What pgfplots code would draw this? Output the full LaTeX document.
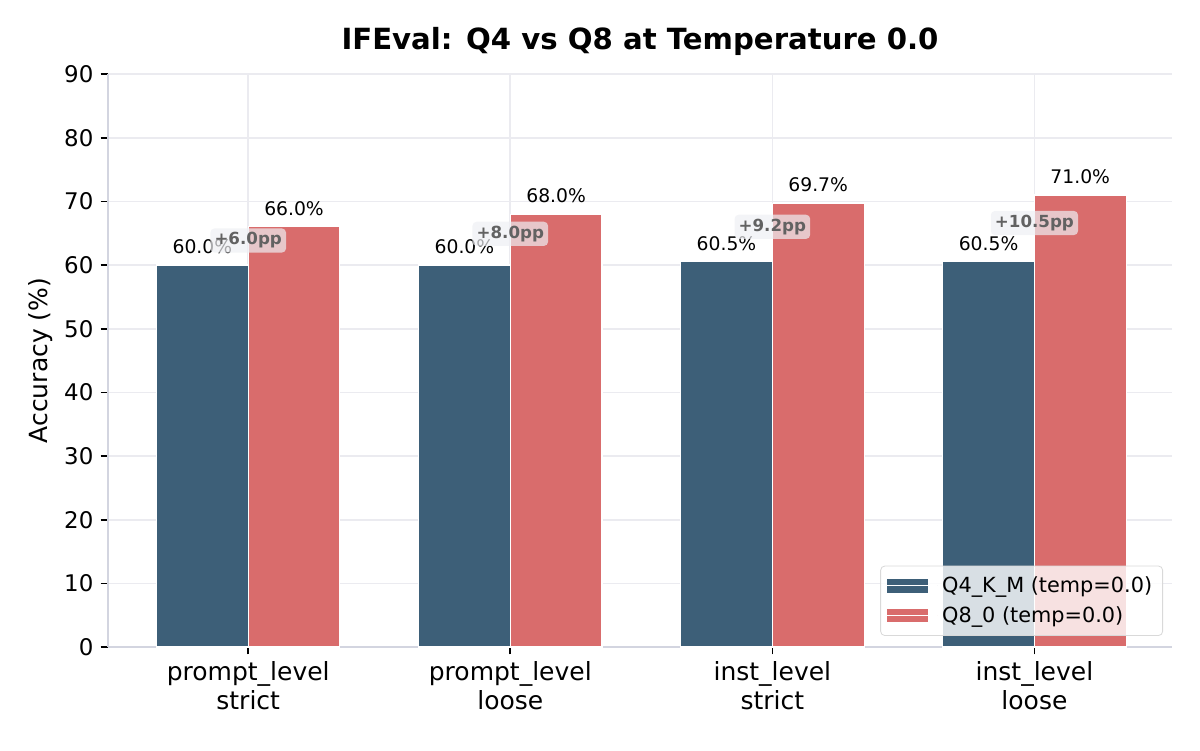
\documentclass[border=0pt]{standalone}
\usepackage{fontspec}
\setmainfont{DejaVu Sans}
\usepackage{pgfplots}
\pgfplotsset{compat=1.18}
\definecolor{qfour}{HTML}{3D5F78}
\definecolor{qeight}{HTML}{D96C6C}
\definecolor{spine}{HTML}{D3D5E0}
\definecolor{gridc}{HTML}{EBEBF0}
\definecolor{boxc}{HTML}{EEEFF3}
\definecolor{pptext}{HTML}{626262}
\begin{document}
\begin{tikzpicture}
\begin{axis}[
  scale only axis,
  width=510.72pt, height=275.04pt,
  xmin=-0.535, xmax=3.525,
  ymin=0, ymax=90,
  ytick={0,10,...,90},
  xtick={0,1,2,3},
  xticklabels={{prompt\_level\\strict},{prompt\_level\\loose},{inst\_level\\strict},{inst\_level\\loose}},
  x tick label style={align=center, font=\fontsize{12}{14}\selectfont},
  y tick label style={font=\fontsize{11}{13}\selectfont},
  /pgf/number format/assume math mode=true,
  axis x line*=bottom, axis y line*=left,
  axis line style={spine, line width=1pt},
  tick style={black, line width=0.8pt},
  major tick length=3.5pt,
  tick align=outside,
  grid=major,
  major grid style={gridc, line width=0.8pt},
  ylabel={Accuracy (\%)},
  ylabel style={font=\fontsize{12}{14}\selectfont, at={(axis description cs:-0.0638,0.5)}, anchor=center},
  legend style={at={(axis description cs:1,0)}, anchor=south east, xshift=-4.3pt, yshift=5.3pt,
    draw=gray!30, rounded corners=2pt, fill=white, fill opacity=0.8, text opacity=1,
    font=\fontsize{10}{12}\selectfont, row sep=1.2pt, inner sep=3pt},
  legend cell align=left,
  legend image code/.code={\fill[#1, fill opacity=1, draw=none, sharp corners] (0pt,-3.2pt) rectangle (19.5pt,3.2pt); \path (0pt,0pt) -- (24pt,0pt);},
  clip=false,
]
\addplot[ybar, bar width=0.35, bar shift=-0.175, fill=qfour, draw=white, line width=0.5pt,
  nodes near coords={\pgfmathprintnumber[fixed,fixed zerofill,precision=1]{\pgfplotspointmeta}\%},
  every node near coord/.append style={anchor=base, yshift=5.65pt, xshift=-22pt, inner sep=0pt, text=black, font=\fontsize{9}{11}\selectfont}]
  coordinates {(0,60.0) (1,60.0) (2,60.5) (3,60.5)};
\addlegendentry{Q4\_K\_M (temp=0.0)}
\addplot[ybar, bar width=0.35, bar shift=0.175, fill=qeight, draw=white, line width=0.5pt,
  nodes near coords={\pgfmathprintnumber[fixed,fixed zerofill,precision=1]{\pgfplotspointmeta}\%},
  every node near coord/.append style={anchor=base, yshift=5.65pt, xshift=22pt, inner sep=0pt, text=black, font=\fontsize{9}{11}\selectfont}]
  coordinates {(0,66.0) (1,68.0) (2,69.7) (3,71.0)};
\addlegendentry{Q8\_0 (temp=0.0)}
\addplot[forget plot, only marks, mark=none, point meta=explicit symbolic,
  nodes near coords,
  every node near coord/.append style={anchor=center, yshift=0pt, fill=boxc, fill opacity=0.7, text opacity=1,
    text=pptext, rounded corners=2pt, inner xsep=2pt, inner ysep=2pt, font=\bfseries\fontsize{8}{10}\selectfont}]
  table[meta=label] {
x y label
0 63.85 +6.0pp
1 64.9 +8.0pp
2 66.0 +9.2pp
3 66.6 +10.5pp
};
\node[font=\bfseries\fontsize{14}{16}\selectfont] at (rel axis cs:0.5,1) [yshift=15.5pt] {IFEval: Q4 vs Q8 at Temperature 0.0};
\end{axis}
\pgfresetboundingbox
\path (-51.84pt,-49.44pt) rectangle (524.16pt,310.56pt);
\end{tikzpicture}
\end{document}
